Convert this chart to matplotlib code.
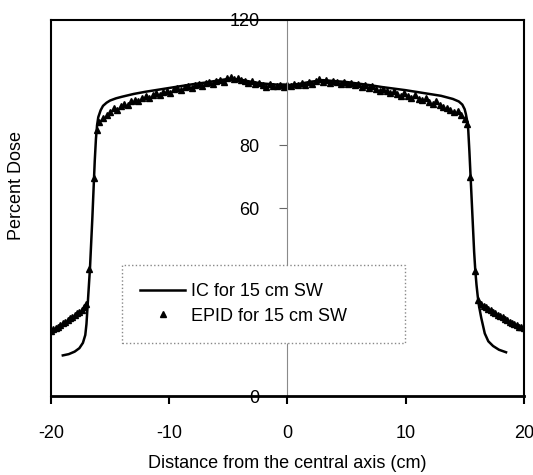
import matplotlib
matplotlib.use('Agg')
import matplotlib.pyplot as plt

plt.rcParams['font.family'] = ['Liberation Sans', 'DejaVu Sans']
plt.rcParams['font.size'] = 13
plt.rcParams['axes.unicode_minus'] = False

# IC profile (line)
ic_x = [-19.0, -18.5, -18.0, -17.6, -17.3, -17.1, -17.0, -16.9, -16.8, -16.7,
        -16.6, -16.5, -16.4, -16.3, -16.2, -16.1, -16.0, -15.8, -15.6, -15.3,
        -15.0, -14.5, -14.0, -13.0, -12.0, -11.0, -10.0, -9.0, -8.0, -7.0,
        -6.0, -5.0, -4.0, -3.0, -2.0, -1.0, 0.0, 1.0, 2.0, 3.0,
        4.0, 5.0, 6.0, 7.0, 8.0, 9.0, 10.0, 11.0, 12.0, 13.0,
        14.0, 14.5, 14.8, 15.0, 15.1, 15.2, 15.3, 15.4, 15.5, 15.6,
        15.7, 15.8, 15.9, 16.0, 16.1, 16.2, 16.4, 16.7, 17.0, 17.4,
        17.9, 18.5]
ic_y = [13.0, 13.4, 14.2, 15.3, 17.0, 19.5, 23.0, 29.0, 35.0, 41.0,
        49.0, 57.0, 66.0, 75.0, 82.0, 86.5, 89.0, 91.2, 92.6, 93.6,
        94.3, 95.0, 95.5, 96.4, 97.1, 97.7, 98.3, 98.9, 99.5, 100.0,
        100.6, 101.2, 101.0, 100.2, 99.7, 99.4, 99.2, 99.6, 100.3, 100.8,
        100.5, 100.2, 99.7, 99.2, 98.6, 98.1, 97.6, 97.0, 96.4, 95.8,
        94.8, 94.0, 93.0, 91.5, 90.0, 88.0, 85.0, 78.0, 70.0, 62.0,
        54.0, 46.0, 40.0, 35.5, 32.0, 29.0, 25.0, 20.0, 17.5, 16.0,
        14.8, 14.0]

# EPID profile (triangles)
epid_x = [-20.0, -19.8, -19.6, -19.4, -19.2, -19.0, -18.8, -18.6, -18.4, -18.2,
          -18.0, -17.8, -17.6, -17.4, -17.2, -17.0, -16.75, -16.35, -16.15, -15.9,
          -15.6, -15.3, -15.0, -14.7, -14.4, -14.1, -13.8, -13.5, -13.2, -12.9,
          -12.6, -12.3, -12.0, -11.7, -11.4, -11.1, -10.8, -10.5, -10.2, -9.9,
          -9.6, -9.3, -9.0, -8.7, -8.4, -8.1, -7.8, -7.5, -7.2, -6.9,
          -6.6, -6.3, -6.0, -5.7, -5.4, -5.1, -4.8, -4.5, -4.2, -3.9,
          -3.6, -3.3, -3.0, -2.7, -2.4, -2.1, -1.8, -1.5, -1.2, -0.9,
          -0.6, -0.3, 0.0, 0.3, 0.6, 0.9, 1.2, 1.5, 1.8, 2.1,
          2.4, 2.7, 3.0, 3.3, 3.6, 3.9, 4.2, 4.5, 4.8, 5.1,
          5.4, 5.7, 6.0, 6.3, 6.6, 6.9, 7.2, 7.5, 7.8, 8.1,
          8.4, 8.7, 9.0, 9.3, 9.6, 9.9, 10.2, 10.5, 10.8, 11.1,
          11.4, 11.7, 12.0, 12.3, 12.6, 12.9, 13.2, 13.5, 13.8, 14.1,
          14.4, 14.7, 15.0, 15.2, 15.45, 15.9, 16.15, 16.4, 16.6, 16.8,
          17.0, 17.2, 17.4, 17.6, 17.8, 18.0, 18.2, 18.4, 18.6, 18.8,
          19.0, 19.2, 19.4, 19.6, 19.8, 20.0]
epid_y = [20.8, 21.3, 21.8, 22.2, 22.8, 23.3, 23.6, 24.2, 24.8, 25.2,
          25.8, 26.4, 27.0, 27.6, 28.3, 29.5, 40.5, 69.5, 85.0, 87.5,
          88.8, 89.8, 90.6, 91.8, 91.3, 92.6, 93.2, 92.8, 94.0, 94.5,
          94.0, 95.2, 95.6, 95.0, 96.2, 96.6, 96.0, 97.1, 97.4, 96.8,
          97.9, 98.2, 97.6, 98.6, 98.9, 98.3, 99.3, 99.6, 98.9, 99.8,
          100.2, 99.7, 100.4, 100.8, 100.2, 101.5, 101.8, 101.3, 101.6, 100.9,
          100.5, 99.8, 100.4, 99.6, 99.9, 99.3, 98.6, 99.5, 99.0, 98.8,
          99.4, 98.7, 99.1, 98.8, 99.6, 99.2, 99.8, 99.4, 100.2, 99.7,
          100.5, 101.2, 100.3, 100.8, 99.9, 100.6, 100.1, 99.5, 100.3, 99.6,
          99.9, 99.2, 99.6, 98.7, 99.2, 98.4, 98.8, 98.0, 97.4, 98.1,
          97.2, 96.6, 97.3, 96.4, 95.9, 96.6, 95.7, 95.2, 96.0, 94.9,
          94.4, 95.1, 93.9, 93.3, 94.0, 92.8, 92.2, 91.8, 91.2, 90.6,
          90.9, 89.6, 88.4, 86.8, 70.0, 40.0, 30.8, 29.5, 28.9, 28.4,
          27.9, 27.4, 26.9, 26.5, 26.0, 25.6, 25.1, 24.7, 24.3, 23.8,
          23.4, 23.0, 22.6, 22.2, 21.9, 21.6]

x_ticks = [-20, -10, 0, 10, 20]
y_ticks = [0, 20, 40, 60, 80, 100, 120]
# 20, 40 and 100 are hidden behind the legend / data in the original
y_tick_labels = ['0', '', '', '60', '80', '', '120']

fig = plt.figure(figsize=(5.33, 4.75), dpi=100)
ax = fig.add_axes([0.0957, 0.166, 0.887, 0.792])

ax.plot(ic_x, ic_y, color='black', lw=1.8, label='IC for 15 cm SW')
ax.plot(epid_x, epid_y, ls='none', marker='^', ms=5, mfc='black',
        mec='black', mew=1.0, label='EPID for 15 cm SW')

ax.set_xlim(-20, 20)
ax.set_ylim(0, 120)

# y axis through the centre, frame around the plot
ax.spines['left'].set_position(('data', 0))
ax.spines['left'].set_color('#8a8a8a')
ax.spines['left'].set_linewidth(0.8)
ax.spines['top'].set_linewidth(1.5)
ax.spines['right'].set_linewidth(1.5)
ax.spines['bottom'].set_linewidth(2.0)
ax.axvline(-20, color='black', lw=1.5, clip_on=False)

ax.set_xticks(x_ticks)
ax.set_yticks(y_ticks)
ax.set_yticklabels(y_tick_labels)
ax.tick_params(axis='x', direction='out', length=6, width=1.5, pad=15)
ax.tick_params(axis='y', direction='out', length=6, width=0.8,
               color='#666666', pad=14)

ax.set_xlabel('Distance from the central axis (cm)', labelpad=9)
ax.set_ylabel('Percent Dose')
ax.yaxis.set_label_coords(-0.056, 0.561)

leg = ax.legend(loc='upper left', bbox_to_anchor=(0.150, 0.125, 0.598, 0.223),
                mode='expand', fancybox=False, framealpha=1, borderpad=1.0,
                handlelength=2.5, handletextpad=0.3, labelspacing=0.4,
                borderaxespad=0)
leg.get_frame().set_edgecolor('#888888')
leg.get_frame().set_linestyle(':')
leg.get_frame().set_linewidth(1.0)

fig.savefig('out.png', dpi=100)
